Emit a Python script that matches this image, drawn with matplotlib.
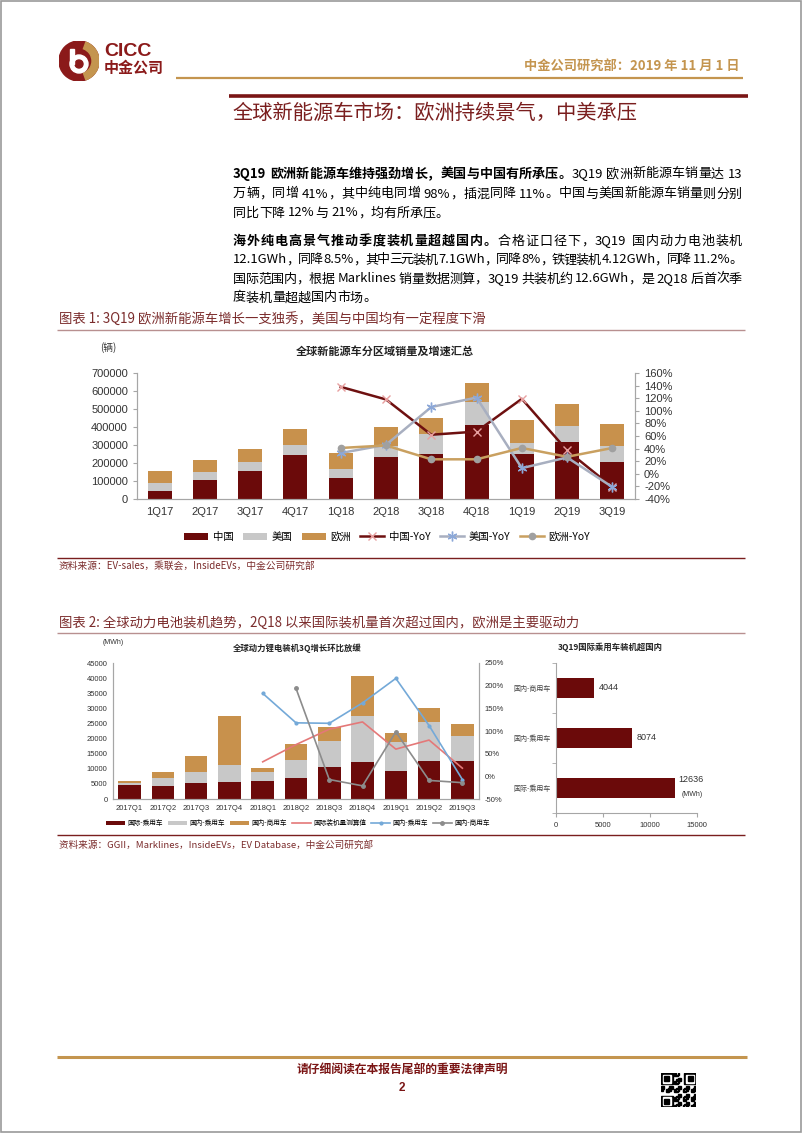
import matplotlib
matplotlib.use('Agg')
import matplotlib.pyplot as plt
from matplotlib.patches import Rectangle, Circle, Wedge
from matplotlib.lines import Line2D
import numpy as np

plt.rcParams['font.family'] = ['Noto Sans CJK SC', 'DejaVu Sans']
plt.rcParams['axes.unicode_minus'] = False

# ---------------- data ----------------
quarters1 = ['1Q17', '2Q17', '3Q17', '4Q17', '1Q18', '2Q18', '3Q18', '4Q18', '1Q19', '2Q19', '3Q19']
sales_china = [46000, 107000, 156000, 244000, 115000, 235000, 252000, 409000, 250000, 318000, 206000]
sales_usa = [43000, 45000, 51000, 56000, 54000, 58000, 109000, 128000, 61000, 86000, 87000]
sales_europe = [65000, 66000, 73000, 89000, 88000, 105000, 91000, 107000, 128000, 124000, 126000]
nan = float('nan')
yoy_china = [nan, nan, nan, nan, 138, 118, 62, 67, 119, 37, -21]
yoy_usa = [nan, nan, nan, nan, 33, 46, 106, 121, 9, 26, -21]
yoy_europe = [nan, nan, nan, nan, 41, 45, 23, 23, 41, 27, 41]

quarters2 = ['2017Q1', '2017Q2', '2017Q3', '2017Q4', '2018Q1', '2018Q2', '2018Q3', '2018Q4',
             '2019Q1', '2019Q2', '2019Q3']
intl_pv = [4600, 4300, 5200, 5500, 6000, 7000, 10600, 12300, 9400, 12500, 12636]
dom_pv = [800, 2700, 3800, 5900, 2900, 5900, 8600, 15300, 9300, 12900, 8074]
dom_cv = [500, 1900, 5200, 15900, 1300, 5300, 4700, 13000, 3000, 4800, 4044]
gr_intl = [nan, nan, nan, nan, 32, 70, 104, 120, 60, 80, 18]
gr_dom_pv = [nan, nan, nan, nan, 183, 118, 117, 162, 216, 112, -7]
gr_dom_cv = [nan, nan, nan, nan, nan, 194, -7, -21, 98, -9, -14]

cats3 = ['国内-商用车', '国内-乘用车', '国际-乘用车']
vals3 = [4044, 8074, 12636]

# ---------------- style ----------------
C_RED = '#6B0A0A'
C_GRAY = '#C8C8C8'
C_TAN = '#C8914C'
C_TITLE = '#7A1E1E'
C_GOLD = '#C4954F'
C_CAP = '#7B2C2C'
C_AX = '#A6A6A6'
NUMF = ['Liberation Sans', 'DejaVu Sans']

W, H = 802, 1133
fig = plt.figure(figsize=(W / 100, H / 100), dpi=100)


def rect(x0, y0, x1, y1):
    return [x0 / W, 1 - y1 / H, (x1 - x0) / W, (y1 - y0) / H]


def txt(x, y, s, **kw):
    kw.setdefault('va', 'center')
    return fig.text(x / W, 1 - y / H, s, **kw)


def hline(x0, x1, y, color, lw):
    fig.add_artist(Line2D([x0 / W, x1 / W], [1 - y / H, 1 - y / H], transform=fig.transFigure,
                          color=color, lw=lw, solid_capstyle='butt'))


# page border
fig.add_artist(Rectangle((0.001, 0.001), 0.998, 0.998, transform=fig.transFigure,
                         fill=False, ec='#9A9A9A', lw=1.2))

# ---------------- header ----------------
axl = fig.add_axes(rect(59, 41, 99, 81))
axl.set_xlim(-1, 1); axl.set_ylim(-1, 1); axl.axis('off')
axl.add_patch(Circle((0, 0), 1, color='#8B1A1A'))
axl.add_patch(Wedge((0, 0), 1, -70, 70, width=0.35, color=C_GOLD))
axl.add_patch(Circle((0.0, -0.15), 0.45, color='white'))
axl.add_patch(Circle((0.0, -0.15), 0.2, color='#8B1A1A'))
axl.add_patch(Rectangle((-0.45, -0.15), 0.18, 0.75, color='white'))
txt(104, 52, 'CICC', fontsize=14, fontweight='bold', color='#8B1A1A', family=NUMF)
txt(104, 68, '中金公司', fontsize=10.8, fontweight='bold', color='#8B1A1A')

txt(740, 66, '中金公司研究部：2019 年 11 月 1 日', fontsize=9.5, color=C_GOLD, ha='right',
    fontweight='bold')
hline(176, 743, 78, C_GOLD, 1.6)
hline(229, 748, 96, '#7A1515', 2.6)
txt(233, 113, '全球新能源车市场：欧洲持续景气，中美承压', fontsize=14.6, color=C_TITLE)

# ---------------- paragraphs (justified) ----------------
renderer = fig.canvas.get_renderer()
PFS = 9.4
X0, X1 = 233, 742


def tokens(parts):
    out = []
    for s, bold in parts:
        buf = ''
        for ch in s:
            if ord(ch) < 128:
                if ch == ' ':
                    if buf:
                        out.append((buf, bold)); buf = ''
                    out.append((' ', bold))
                else:
                    buf += ch
            else:
                if buf:
                    out.append((buf, bold)); buf = ''
                out.append((ch, bold))
        if buf:
            out.append((buf, bold))
    return out


def para_line(y, parts, justify=True):
    toks = tokens(parts)
    objs = []
    widths = []
    for s, bold in toks:
        if s == ' ':
            objs.append(None); widths.append(PFS * 100 / 72 * 0.25)
            continue
        t = txt(0, y, s, fontsize=PFS, color='black', fontweight='bold' if bold else 'normal',
                ha='left')
        objs.append(t)
        widths.append(t.get_window_extent(renderer).width)
    n = len(toks)
    gap = (X1 - X0 - sum(widths)) / (n - 1) if (justify and n > 1) else 0.0
    x = X0
    for o, w in zip(objs, widths):
        if o is not None:
            o.set_x(x / W)
        x += w + gap


para_line(174, [('3Q19 欧洲新能源车维持强劲增长，美国与中国有所承压。', True),
                ('3Q19 欧洲新能源车销量达 13', False)])
para_line(194, [('万辆，同增 41%，其中纯电同增 98%，插混同降 11%。中国与美国新能源车销量则分别', False)])
para_line(213, [('同比下降 12%与 21%，均有所承压。', False)], justify=False)
para_line(241, [('海外纯电高景气推动季度装机量超越国内。', True),
                ('合格证口径下，3Q19 国内动力电池装机', False)])
para_line(260, [('12.1GWh，同降 8.5%，其中三元装机 7.1GWh，同降 8%，铁锂装机 4.12GWh，同降 11.2%。', False)])
para_line(279, [('国际范围内，根据 Marklines 销量数据测算，3Q19 共装机约 12.6GWh，是 2Q18 后首次季', False)])
para_line(298, [('度装机量超越国内市场。', False)], justify=False)

# ---------------- chart 1 ----------------
txt(59, 320, '图表 1: 3Q19 欧洲新能源车增长一支独秀，美国与中国均有一定程度下滑', fontsize=9.6, color=C_CAP)
hline(57, 745, 330, '#B89090', 1.0)
txt(108, 348, '(辆)', fontsize=7, color='#333333', ha='center')
txt(385, 351, '全球新能源车分区域销量及增速汇总', fontsize=8, fontweight='bold', ha='center', color='#222222')

ax1 = fig.add_axes(rect(137, 373, 635, 499))
x1 = np.arange(len(quarters1))
bw = 0.53
b1 = ax1.bar(x1, sales_china, bw, color=C_RED, label='中国')
b2 = ax1.bar(x1, sales_usa, bw, bottom=sales_china, color=C_GRAY, label='美国')
bot = np.array(sales_china) + np.array(sales_usa)
b3 = ax1.bar(x1, sales_europe, bw, bottom=bot, color=C_TAN, label='欧洲')
ax1.set_xlim(-0.5, len(quarters1) - 0.5)
ax1.set_ylim(0, 700000)
ax1.set_yticks(range(0, 700001, 100000))
ax1.set_xticks(x1)
ax1.set_xticklabels(quarters1)
ax1.spines['top'].set_visible(False)
for sp in ['left', 'bottom', 'right']:
    ax1.spines[sp].set_color(C_AX)
ax1.tick_params(axis='both', labelsize=8, colors='#333333', length=3, color=C_AX)
ax1.tick_params(axis='x', length=0, pad=6)
for lab in ax1.get_xticklabels() + ax1.get_yticklabels():
    lab.set_family(NUMF)

ax1r = ax1.twinx()
l1, = ax1r.plot(x1, yoy_china, color='#6E1010', lw=1.8, marker='x', ms=6, mec='#E8A0A0', mew=1.0,
                label='中国-YoY')
l2, = ax1r.plot(x1, yoy_usa, color='#A8AFC0', lw=1.8, marker=(6, 2, 0), ms=7, mec='#8CA8D8', mew=1.0,
                label='美国-YoY')
l3, = ax1r.plot(x1, yoy_europe, color='#C9A060', lw=1.8, marker='o', ms=4.5, mfc='#A0A0A0',
                mec='#A0A0A0', label='欧洲-YoY')
ax1r.set_ylim(-40, 160)
ax1r.set_yticks(range(-40, 161, 20))
ax1r.set_yticklabels(['%d%%' % v for v in range(-40, 161, 20)])
ax1r.spines['top'].set_visible(False)
for sp in ['left', 'bottom', 'right']:
    ax1r.spines[sp].set_color(C_AX)
ax1r.tick_params(axis='y', labelsize=8, colors='#333333', length=3, color=C_AX)
for lab in ax1r.get_yticklabels():
    lab.set_family(NUMF)

fig.legend([b1, b2, b3, l1, l2, l3], ['中国', '美国', '欧洲', '中国-YoY', '美国-YoY', '欧洲-YoY'],
           loc='center', bbox_to_anchor=(387 / W, 1 - 537 / H), ncol=6, frameon=False,
           fontsize=7.5, handlelength=2.3, handleheight=0.7, columnspacing=0.9, handletextpad=0.45)

hline(57, 745, 558, '#7A1E1E', 1.0)
txt(59, 566, '资料来源：EV-sales，乘联会，InsideEVs，中金公司研究部', fontsize=7, color=C_CAP)

# ---------------- chart 2 ----------------
txt(59, 623, '图表 2: 全球动力电池装机趋势，2Q18 以来国际装机量首次超过国内，欧洲是主要驱动力',
    fontsize=9.6, color=C_CAP)
hline(57, 745, 633, '#B89090', 1.0)
txt(113, 643, '(MWh)', fontsize=5, color='#333333', ha='center', family=NUMF)
txt(297, 648, '全球动力锂电装机3Q增长环比放缓', fontsize=6, fontweight='bold', ha='center', color='#222222')

ax2 = fig.add_axes(rect(113, 663, 479, 799))
x2 = np.arange(len(quarters2))
bw2 = 0.68
c1 = ax2.bar(x2, intl_pv, bw2, color=C_RED)
c2 = ax2.bar(x2, dom_pv, bw2, bottom=intl_pv, color=C_GRAY)
bot2 = np.array(intl_pv) + np.array(dom_pv)
c3 = ax2.bar(x2, dom_cv, bw2, bottom=bot2, color=C_TAN)
ax2.set_xlim(-0.5, len(quarters2) - 0.5)
ax2.set_ylim(0, 45000)
ax2.set_yticks(range(0, 45001, 5000))
ax2.set_xticks(x2)
ax2.set_xticklabels(quarters2)
ax2.spines['top'].set_visible(False)
for sp in ['left', 'bottom', 'right']:
    ax2.spines[sp].set_color(C_AX)
ax2.tick_params(axis='both', labelsize=5.5, colors='#333333', length=0, pad=4)
for lab in ax2.get_xticklabels() + ax2.get_yticklabels():
    lab.set_family(NUMF)

ax2r = ax2.twinx()
m1, = ax2r.plot(x2, gr_intl, color='#E47878', lw=1.2)
m2, = ax2r.plot(x2, gr_dom_pv, color='#74A9D8', lw=1.2, marker='o', ms=2, mfc='#74A9D8', mec='#74A9D8')
m3, = ax2r.plot(x2, gr_dom_cv, color='#8C8C8C', lw=1.2, marker='o', ms=2.5, mfc='#8C8C8C', mec='#8C8C8C')
ax2r.set_ylim(-50, 250)
ax2r.set_yticks(range(-50, 251, 50))
ax2r.set_yticklabels(['%d%%' % v for v in range(-50, 251, 50)])
ax2r.spines['top'].set_visible(False)
for sp in ['left', 'bottom', 'right']:
    ax2r.spines[sp].set_color(C_AX)
ax2r.tick_params(axis='y', labelsize=5.5, colors='#333333', length=0, pad=4)
for lab in ax2r.get_yticklabels():
    lab.set_family(NUMF)

fig.legend([c1, c2, c3, m1, m2, m3], ['国际-乘用车', '国内-乘用车', '国内-商用车', '国际装机量测算值',
                                      '国内-乘用车', '国内-商用车'],
           loc='center', bbox_to_anchor=(298 / W, 1 - 823 / H), ncol=6, frameon=False,
           fontsize=4.8, handlelength=2.8, handleheight=0.6, columnspacing=0.8, handletextpad=0.35)

# ---------------- chart 3 ----------------
txt(610, 647, '3Q19国际乘用车装机超国内', fontsize=6, fontweight='bold', ha='center', color='#222222')
ax3 = fig.add_axes(rect(556, 663, 697, 813))
y3 = np.arange(len(cats3))
ax3.barh(y3, vals3, 0.39, color=C_RED)
ax3.set_ylim(2.5, -0.5)
ax3.set_xlim(0, 15000)
ax3.set_xticks([0, 5000, 10000, 15000])
ax3.set_yticks(y3)
ax3.set_yticklabels(cats3)
ax3.set_yticks([-0.5, 0.5, 1.5, 2.5], minor=True)
ax3.tick_params(axis='y', which='major', length=0, labelsize=5, colors='#444444', pad=4)
ax3.tick_params(axis='y', which='minor', length=3, color=C_AX)
ax3.tick_params(axis='x', length=3, color=C_AX, labelsize=5.5, colors='#333333')
for lab in ax3.get_xticklabels():
    lab.set_family(NUMF)
for sp in ['top', 'right']:
    ax3.spines[sp].set_visible(False)
for sp in ['left', 'bottom']:
    ax3.spines[sp].set_color(C_AX)
for i, v in enumerate(vals3[:2]):
    ax3.text(v + 500, i, str(v), va='center', ha='left', fontsize=6.5, color='#333333', family=NUMF)
ax3.text(vals3[2] + 400, 2 - 0.18, str(vals3[2]), va='center', ha='left', fontsize=6.5,
         color='#333333', family=NUMF)
ax3.text(vals3[2] + 700, 2 + 0.12, '(MWh)', va='center', ha='left', fontsize=5, color='#333333',
         family=NUMF)

hline(57, 745, 835, '#7A1E1E', 1.0)
txt(59, 845, '资料来源：GGII，Marklines，InsideEVs，EV Database，中金公司研究部', fontsize=6.9, color=C_CAP)

# ---------------- footer ----------------
hline(57, 747, 1057, C_GOLD, 2.2)
txt(402, 1070, '请仔细阅读在本报告尾部的重要法律声明', fontsize=8.5, fontweight='bold', color='#7A1515',
    ha='center')
txt(402, 1088, '2', fontsize=8.5, fontweight='bold', color='#7A1515', ha='center', family=NUMF)

axq = fig.add_axes(rect(661, 1073, 696, 1107))
axq.set_xlim(0, 21); axq.set_ylim(0, 21); axq.axis('off')
for (cx, cy) in [(0, 14), (14, 14), (0, 0)]:
    axq.add_patch(Rectangle((cx, cy), 7, 7, color='black'))
    axq.add_patch(Rectangle((cx + 1, cy + 1), 5, 5, color='white'))
    axq.add_patch(Rectangle((cx + 2, cy + 2), 3, 3, color='black'))
for i in range(21):
    for j in range(21):
        inf = (i < 8 and j < 8) or (i > 12 and j > 12) or (i < 8 and j > 12)
        if not inf and ((i * 7 + j * 3 + i * j) % 5 < 2):
            axq.add_patch(Rectangle((i, j), 1, 1, color='black'))

fig.savefig('out.png', dpi=100)
